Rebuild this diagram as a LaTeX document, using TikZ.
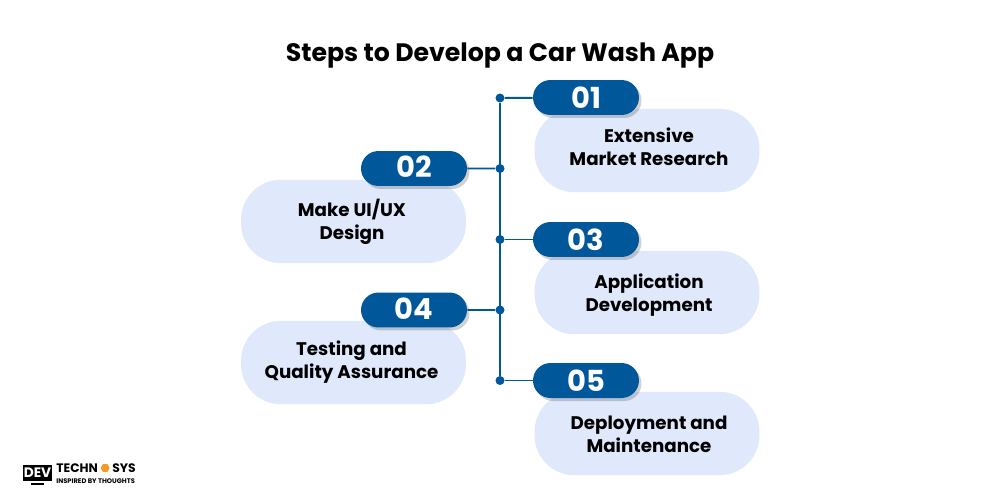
\documentclass[tikz,border=0pt]{standalone}
\usepackage{fontspec}
\setmainfont{Poppins}
\usepackage{xcolor}
\definecolor{stepblue}{HTML}{00589B}
\definecolor{paleblue}{HTML}{E0E8FB}
\definecolor{logoorange}{HTML}{F59A23}
\usetikzlibrary{shapes.misc,shapes.geometric,shadows,positioning}
\tikzset{
    badge/.style={rounded rectangle, fill=stepblue, text=white, minimum width=2.12cm, minimum height=0.7cm, inner sep=0pt,
        font=\fontsize{16.5}{16.5}\selectfont\bfseries, drop shadow={shadow xshift=0.05cm, shadow yshift=-0.06cm, opacity=0.18, fill=black}},
    card/.style={rectangle, rounded corners=0.8cm, fill=paleblue, minimum width=4.5cm, minimum height=1.67cm, inner sep=0pt},
    cardtext/.style={align=center, inner sep=0pt, font=\fontsize{10.4}{13}\selectfont\bfseries},
    dot/.style={circle, fill=stepblue, minimum size=0.18cm, inner sep=0pt},
    wire/.style={stepblue, line width=1.1pt},
    logotext/.style={inner sep=0pt, font=\fontsize{7}{7}\selectfont\bfseries}
}
\begin{document}
\begin{tikzpicture}[x=0.02cm, y=-0.02cm]
    \useasboundingbox[fill=white] (0,0) rectangle (1000,500);

    % Title
    \node[font=\fontsize{14.35}{17}\selectfont\bfseries] (title) at (500,56) {Steps to Develop a Car Wash App};

    % Cards
    \node[card] (card1) at (647,150.5) {};
    \node[card] (card2) at (353.5,221.5) {};
    \node[card] (card3) at (647,292.5) {};
    \node[card] (card4) at (353.5,362.5) {};
    \node[card] (card5) at (647,433.5) {};

    % Card texts
    \node[cardtext] (text1) at (649,147) {Extensive\\Market Research};
    \node[cardtext] (text2) at (352,222) {Make UI/UX\\Design};
    \node[cardtext] (text3) at (649,295) {Application\\Development};
    \node[cardtext] (text4) at (351.5,362) {Testing and\\Quality Assurance};
    \node[cardtext] (text5) at (649,434) {Deployment and\\Maintenance};

    % Dots on the spine
    \node[dot] (dot1) at (500,98) {};
    \node[dot] (dot2) at (500,168.5) {};
    \node[dot] (dot3) at (500,239.5) {};
    \node[dot] (dot4) at (500,310) {};
    \node[dot] (dot5) at (500,380.5) {};

    % Spine
    \draw[wire] (dot1) -- (dot5);

    % Badges
    \node[badge] (badge1) at (586,97.5) {01};
    \node[badge] (badge2) at (414,168.5) {\raisebox{1.5pt}{02}};
    \node[badge] (badge3) at (586,239.5) {03};
    \node[badge] (badge4) at (414,310) {\raisebox{1.1pt}{04}};
    \node[badge] (badge5) at (586,380.5) {05};

    % Branches
    \draw[wire] (dot1) -- (badge1);
    \draw[wire] (dot2) -- (badge2);
    \draw[wire] (dot3) -- (badge3);
    \draw[wire] (dot4) -- (badge4);
    \draw[wire] (dot5) -- (badge5);

    % Logo
    \node[fill=black, text=white, minimum width=0.58cm, minimum height=0.32cm, inner sep=0pt, font=\fontsize{7.8}{7.8}\selectfont\bfseries] (logodev) at (37.5,473) {DEV};
    \node[fill=black, minimum width=0.26cm, minimum height=0.04cm, inner sep=0pt, below=0.02cm of logodev] (logostand) {};
    \node[logotext, anchor=west] (logotech) at (56,468) {TECHN};
    \node[regular polygon, regular polygon sides=6, fill=logoorange, minimum size=0.18cm, inner sep=0pt, right=0.04cm of logotech] (logohex) {};
    \node[logotext, right=0.04cm of logohex] (logosys) {SYS};
    \node[inner sep=0pt, anchor=west, font=\fontsize{3.8}{3.8}\selectfont\bfseries] (logotag) at (56,481) {INSPIRED BY THOUGHTS};
\end{tikzpicture}
\end{document}
